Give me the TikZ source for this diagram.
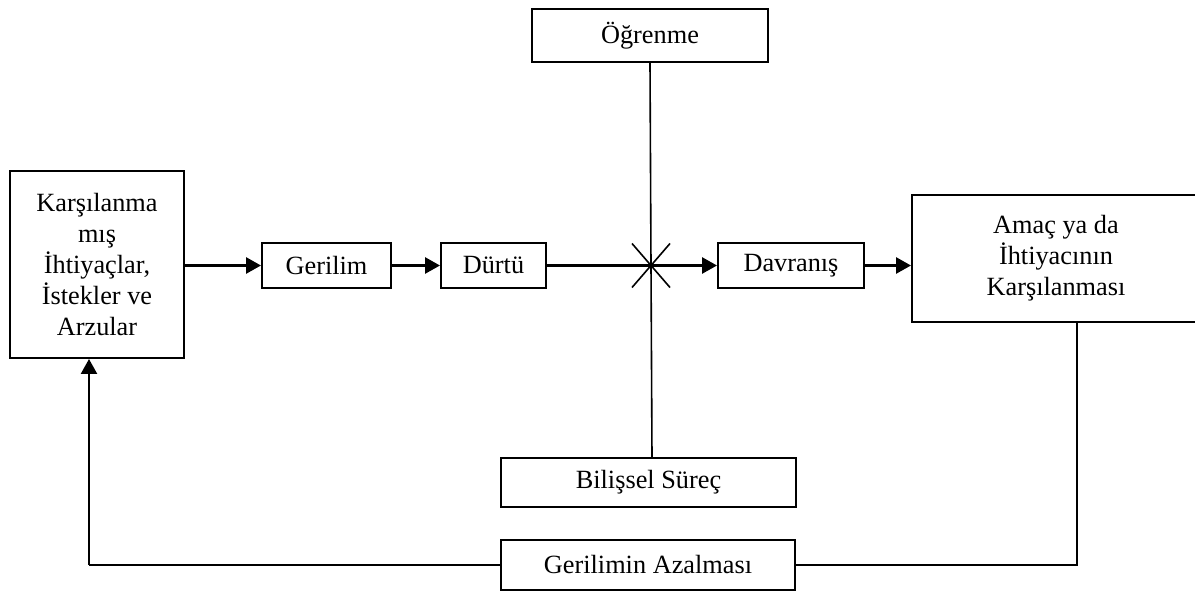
\documentclass[tikz,border=0pt]{standalone}
\usepackage{fontspec}
\setmainfont{Liberation Serif}
\usetikzlibrary{arrows.meta,calc}
\begin{document}
\begin{tikzpicture}[x=1pt,y=-1pt,
  box/.style={draw=black,line width=2pt,inner sep=0pt,align=center,
    font=\fontsize{26.3}{31}\selectfont},
  arr/.style={line width=2.8pt,-{Triangle[length=15pt,width=16pt]}},
  ln/.style={line width=1.6pt},
  loop/.style={line width=2.2pt}]
\useasboundingbox (0,0) rectangle (1195,593);
% nodes
\node[box,minimum width=174pt,minimum height=187pt] (need) at (97,264.5)
  {Karşılanma\\mış\\İhtiyaçlar,\\İstekler ve\\Arzular};
\node[box,minimum width=129pt,minimum height=45pt] (ger) at (326.5,265.5) {Gerilim};
\node[box,minimum width=105pt,minimum height=45pt] (durtu) at (493.5,265.5) {Dürtü};
\node[box,minimum width=236pt,minimum height=53pt] (og) at (650,35.5) {Öğrenme};
\node[box,minimum width=146pt,minimum height=45pt] (dav) at (791,265.5) {Davranış};
\node[box,minimum width=288pt,minimum height=127pt] (amac) at (1056,258.5)
  {\raisebox{4pt}{\begin{tabular}{@{}c@{}}Amaç ya da\\İhtiyacının\\Karşılanması\end{tabular}}};
\node[box,minimum width=295pt,minimum height=49pt] (bs) at (648.5,482.5) {Bilişsel Süreç};
\node[box,minimum width=294pt,minimum height=50pt] (ga) at (648,565) {Gerilimin Azalması};
\coordinate (cross) at (651,265.5);
\coordinate (cl) at (89,565);
\coordinate (cr) at (1077,565);
% connectors
\draw[arr] (need.east |- ger) -- (ger.west);
\draw[arr] (ger) -- (durtu.west);
\draw[arr] (durtu.east) -- (dav.west);
\draw[arr] (dav.east) -- (amac.west |- dav);
\draw[ln] (og.south) -- (cross) -- (bs.north -| 652,0);
\draw[ln] ($(cross)+(-19,-22)$) -- ($(cross)+(19,22)$);
\draw[ln] ($(cross)+(-19,22)$) -- ($(cross)+(19,-22)$);
\draw[loop] (amac.south -| cr) -- (cr) -- (ga.east);
\draw[loop] (ga.west) -- (cl);
\draw[arr,line width=2.4pt] (cl) -- (need.south -| cl);
\end{tikzpicture}
\end{document}
